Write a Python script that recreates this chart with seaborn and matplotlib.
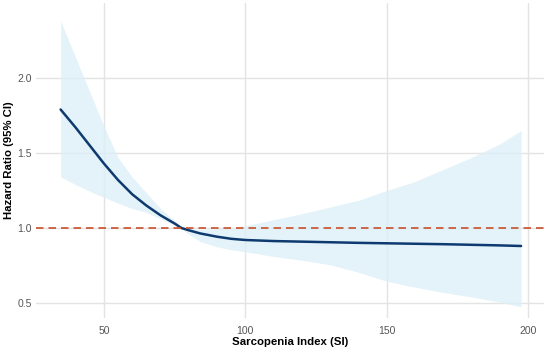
import matplotlib
matplotlib.use("Agg")
import matplotlib.pyplot as plt
import seaborn as sns
import pandas as pd

si = [34.7, 40, 45, 50, 55, 60, 65, 70, 75, 77.4, 80, 84, 90, 95, 100, 110, 120, 130, 140, 150, 160, 170, 180, 190, 197.5]
hr = [1.79, 1.67, 1.55, 1.43, 1.32, 1.225, 1.15, 1.085, 1.03, 1.00, 0.985, 0.964, 0.942, 0.928, 0.92,
      0.913, 0.909, 0.905, 0.901, 0.898, 0.895, 0.892, 0.888, 0.884, 0.88]
upper = [2.38, 2.137, 1.908, 1.679, 1.47, 1.34, 1.235, 1.13, 1.05, 1.005, 0.995, 0.99, 0.995, 1.003, 1.015,
         1.055, 1.095, 1.14, 1.185, 1.25, 1.31, 1.39, 1.47, 1.56, 1.65]
lower = [1.34, 1.29, 1.245, 1.205, 1.165, 1.13, 1.105, 1.06, 1.02, 0.995, 0.96, 0.91, 0.875, 0.855, 0.842,
         0.81, 0.785, 0.755, 0.705, 0.645, 0.605, 0.57, 0.54, 0.505, 0.475]
x_ticks = [50, 100, 150, 200]
y_ticks = [0.5, 1.0, 1.5, 2.0]

df = pd.DataFrame({"SI": si, "HR": hr, "upper": upper, "lower": lower})

sns.set_theme(style="white")
plt.rcParams["font.family"] = ["Liberation Sans", "DejaVu Sans"]

fig = plt.figure(figsize=(5.5, 3.53), dpi=100)
ax = fig.add_axes([36 / 550, 1 - 318 / 353, (544 - 36) / 550, (318 - 3) / 353])

ax.fill_between(df["SI"], df["lower"], df["upper"], color="#DDF0F8", alpha=0.8, linewidth=0, zorder=1)
sns.lineplot(data=df, x="SI", y="HR", ax=ax, color="#0E3A70", linewidth=1.8, zorder=3)
ax.axhline(1.0, color="#C8502A", linestyle=(0, (4.5, 3)), linewidth=1.2, zorder=4)

ax.set_xlim(26, 205.6)
ax.set_ylim(0.40, 2.50)
ax.set_xticks(x_ticks)
ax.set_yticks(y_ticks)
ax.set_yticklabels([f"{v:.1f}" for v in y_ticks])
ax.grid(True, color="#E3E3E3", linewidth=1.0, zorder=0)
ax.set_axisbelow(True)
for s in ax.spines.values():
    s.set_visible(False)
ax.tick_params(axis="both", length=0, labelsize=7.5, labelcolor="#555555")
ax.tick_params(axis="x", pad=6)
ax.tick_params(axis="y", pad=3)

ax.set_xlabel("Sarcopenia Index (SI)", fontsize=8.2, fontweight="bold", color="black")
ax.set_ylabel("Hazard Ratio (95% CI)", fontsize=8.2, fontweight="bold", color="black")
ax.xaxis.set_label_coords(0.5, -19 / 315)
ax.yaxis.set_label_coords(-22 / 508, 0.5)

fig.savefig("out.png", dpi=100)
